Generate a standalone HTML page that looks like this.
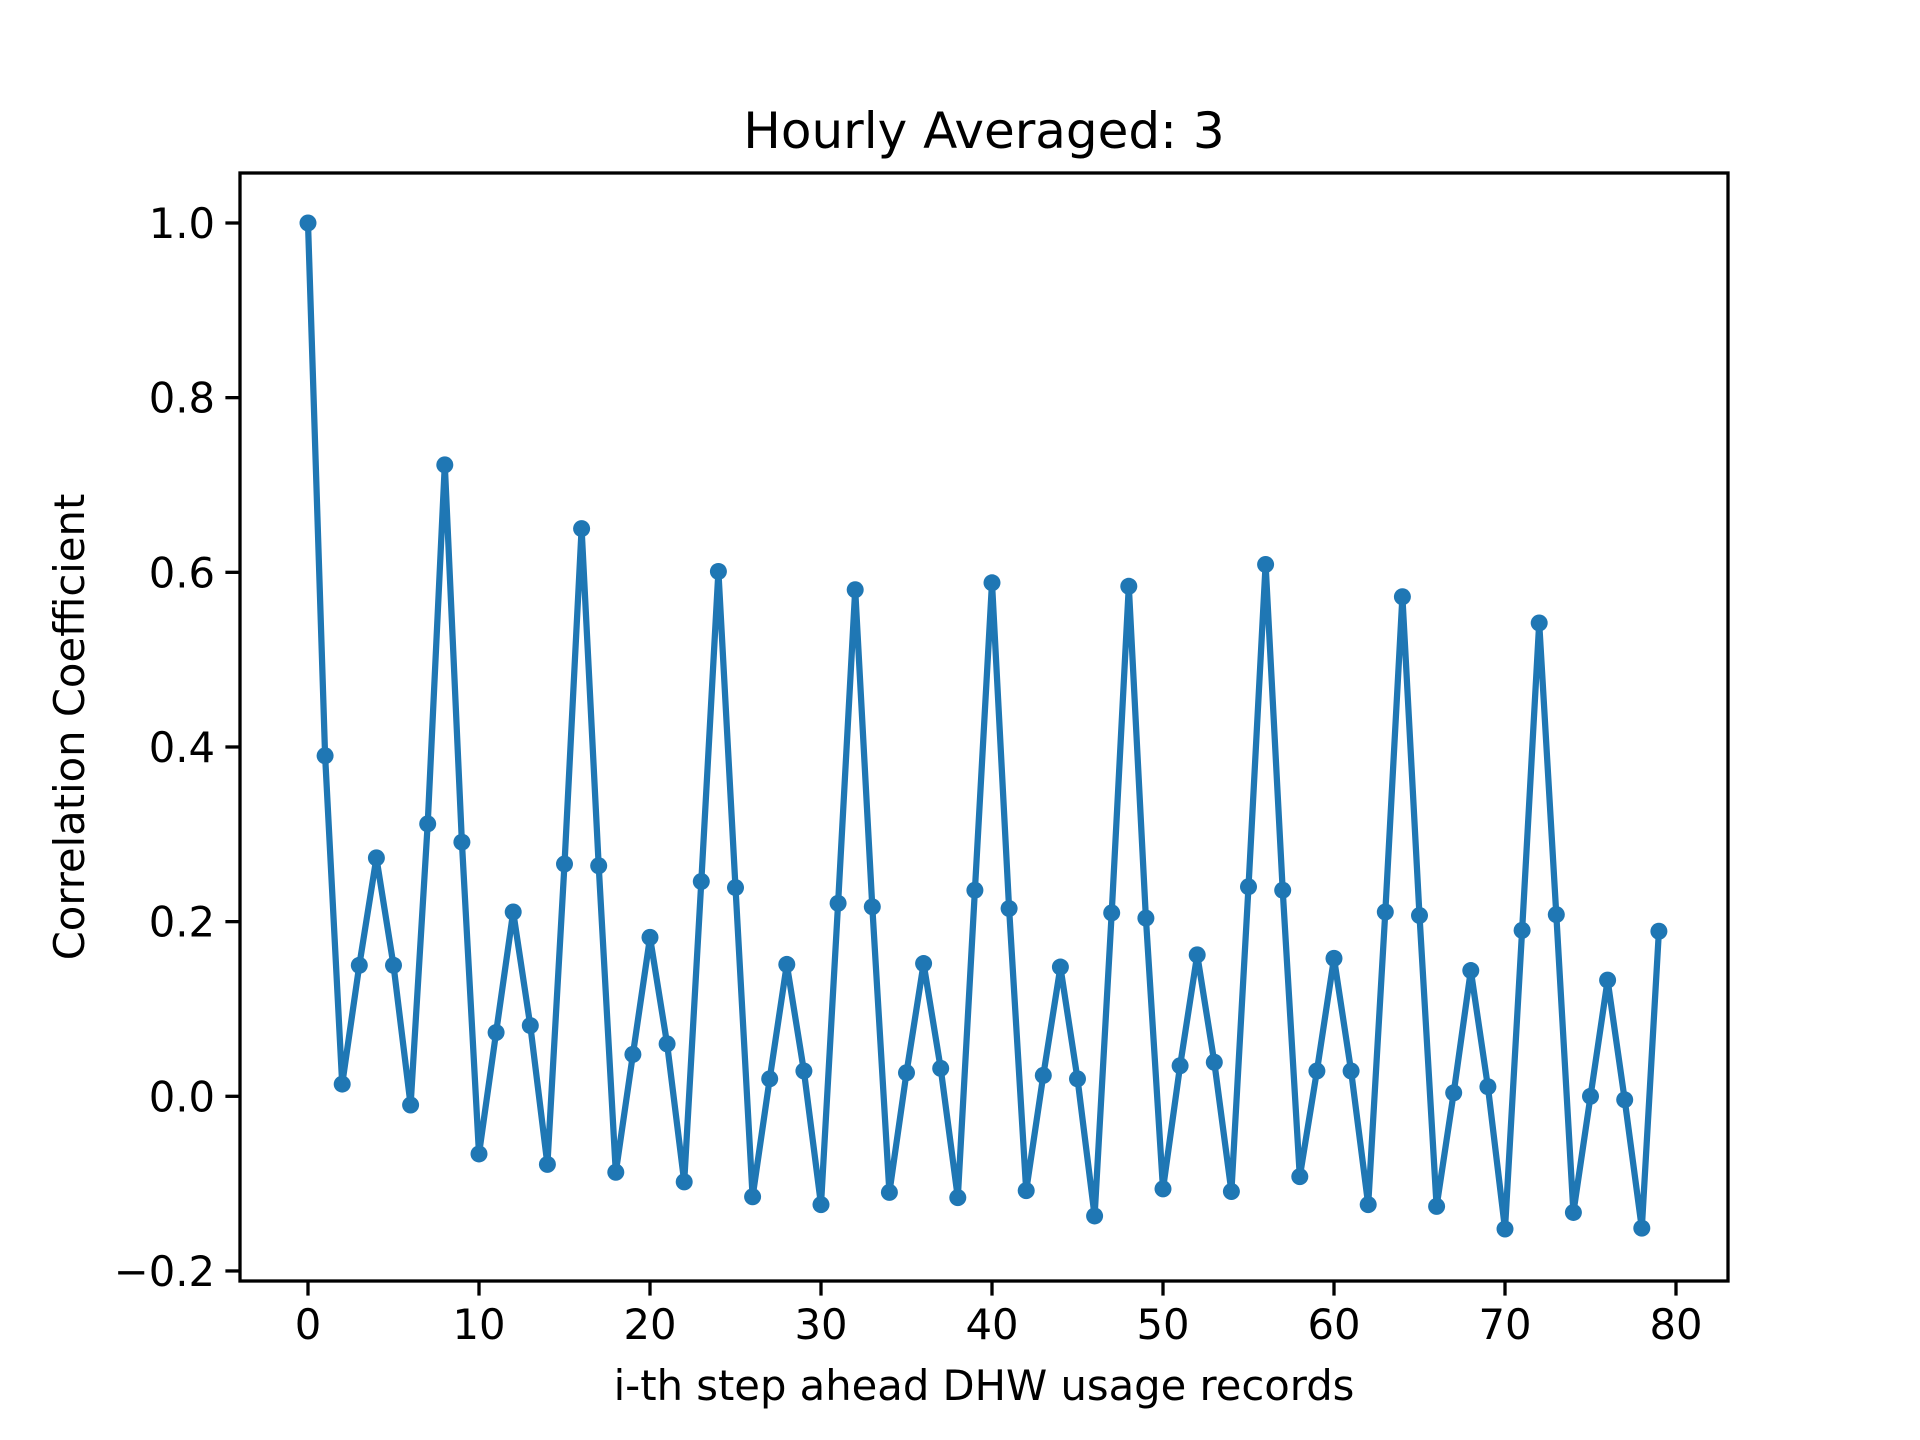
<!DOCTYPE html>
<html><head><meta charset="utf-8"><style>
html,body{margin:0;padding:0;background:#fff;}
svg{display:block;font-family:"DejaVu Sans","Liberation Sans",sans-serif;}
</style></head><body>
<svg id="chart" width="1920" height="1440" viewBox="0 0 1920 1440" xmlns="http://www.w3.org/2000/svg">
<rect width="1920" height="1440" fill="#fff"/>
<g id="plot"></g>
</svg>
<script>
const lags = Array.from({length:80},(_,i)=>i);
const corrValues = [1.0,0.39,0.014,0.15,0.273,0.15,-0.01,0.312,0.723,0.291,
-0.066,0.073,0.211,0.081,-0.078,0.266,0.65,0.264,-0.087,0.048,
0.182,0.06,-0.098,0.246,0.601,0.239,-0.115,0.02,0.151,0.029,
-0.124,0.221,0.58,0.217,-0.11,0.027,0.152,0.032,-0.116,0.236,
0.588,0.215,-0.108,0.024,0.148,0.02,-0.137,0.21,0.584,0.204,
-0.106,0.035,0.162,0.039,-0.109,0.24,0.609,0.236,-0.092,0.029,
0.158,0.029,-0.124,0.211,0.572,0.207,-0.126,0.004,0.144,0.011,
-0.152,0.19,0.542,0.208,-0.133,0.0,0.133,-0.004,-0.151,0.189];
const xTicks = [0,10,20,30,40,50,60,70,80];
const yTicks = [-0.2,0.0,0.2,0.4,0.6,0.8,1.0];
const yTickLabels = ["\u22120.2","0.0","0.2","0.4","0.6","0.8","1.0"];

const L=240,R=1728,T=173,B=1281;
const xs = v => 308 + v*17.1;
const ys = v => 1096.3 - v*873.3;
const NS="http://www.w3.org/2000/svg";
const g=document.getElementById('plot');
function mk(tag,attrs,parent){const e=document.createElementNS(NS,tag);for(const k in attrs)e.setAttribute(k,attrs[k]);(parent||g).appendChild(e);return e;}

const pts = lags.map((l,i)=>xs(l).toFixed(1)+","+ys(corrValues[i]).toFixed(1)).join(" ");
const line = mk('polyline',{points:pts,fill:'none',stroke:'#1f77b4','stroke-width':6.25,'stroke-linejoin':'round','stroke-linecap':'square'});


lags.forEach((l,i)=>{
  const c = mk('circle',{cx:xs(l),cy:ys(corrValues[i]),r:8.5,fill:'#1f77b4'});
  
  
});

const frame = mk('rect',{x:L,y:T,width:R-L,height:B-T,fill:'none',stroke:'#000','stroke-width':3.3});



xTicks.forEach(t=>{
  const x=xs(t);
  const tk = mk('line',{x1:x,x2:x,y1:B,y2:B+14.6,stroke:'#000','stroke-width':3.3});
  
  
  const tx = mk('text',{x:x,y:B+58,'text-anchor':'middle','font-size':41.7,fill:'#000'});
  tx.textContent=String(t);
  
  
});
yTicks.forEach((t,i)=>{
  const y=ys(t);
  const tk = mk('line',{x1:L-14.6,x2:L,y1:y,y2:y,stroke:'#000','stroke-width':3.3});
  
  
  const tx = mk('text',{x:L-25,y:y+15,'text-anchor':'end','font-size':41.7,fill:'#000'});
  tx.textContent=yTickLabels[i];
  
  
});

const title = mk('text',{x:(L+R)/2,y:148,'text-anchor':'middle','font-size':50,fill:'#000'});
title.textContent='Hourly Averaged: 3';



const xl = mk('text',{x:(L+R)/2,y:1400,'text-anchor':'middle','font-size':41.7,fill:'#000'});
xl.textContent='i-th step ahead DHW usage records';



const yl = mk('text',{x:0,y:0,'text-anchor':'middle','font-size':41.7,fill:'#000',transform:'translate(84,'+((T+B)/2)+') rotate(-90)'});
yl.textContent='Correlation Coefficient';


</script>
</body></html>
